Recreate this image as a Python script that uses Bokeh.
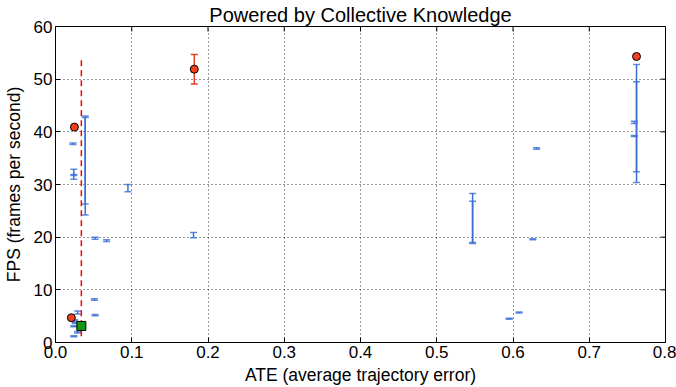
import math
from bokeh.plotting import figure
from bokeh.models import ColumnDataSource, Whisker, TeeHead, FixedTicker
from bokeh.embed import file_html
from bokeh.resources import INLINE

# ---- data ----
x_ticks = [0.0, 0.1, 0.2, 0.3, 0.4, 0.5, 0.6, 0.7, 0.8]
x_tick_labels = ["0.0", "0.1", "0.2", "0.3", "0.4", "0.5", "0.6", "0.7", "0.8"]
y_ticks = [0, 10, 20, 30, 40, 50, 60]
y_tick_labels = ["0", "10", "20", "30", "40", "50", "60"]

blue_x = [0.039, 0.039, 0.023, 0.024, 0.024, 0.095, 0.052, 0.067, 0.181,
          0.051, 0.052, 0.029, 0.025, 0.026, 0.024, 0.029, 0.024,
          0.547, 0.547, 0.626, 0.595, 0.608, 0.631,
          0.762, 0.762, 0.759, 0.759]
blue_lo = [26.3, 24.2, 37.6, 31.0, 31.7, 28.6, 19.6, 19.2, 19.9,
           8.0, 5.1, 5.4, 4.1, 3.6, 3.0, 1.8, 1.1,
           18.8, 19.0, 19.5, 4.4, 5.6, 36.7,
           30.4, 32.4, 41.6, 39.1]
blue_hi = [43.0, 42.7, 37.9, 32.9, 31.9, 30.0, 20.0, 19.5, 20.9,
           8.3, 5.3, 6.0, 4.3, 3.8, 3.2, 2.1, 1.3,
           28.3, 26.8, 19.7, 4.6, 5.8, 37.0,
           52.8, 49.5, 42.0, 39.3]

red_err_x = [0.182]
red_err_lo = [49.1]
red_err_hi = [54.7]

red_x = [0.0208, 0.0248, 0.182, 0.762]
red_y = [4.7, 40.9, 51.9, 54.3]

green_x = [0.0339]
green_y = [3.15]

line_x = [0.0339, 0.0339]
line_y = [1.2, 54.3]

X_MAX = x_ticks[-1]
Y_MAX = y_ticks[-1]

# ---- figure ----
FONT = "Liberation Sans"
p = figure(width=676, height=387, x_range=(x_ticks[0], X_MAX), y_range=(y_ticks[0], Y_MAX),
           output_backend="svg", toolbar_location=None,
           min_border_left=51, min_border_right=11,
           min_border_top=25, min_border_bottom=45)
p.background_fill_color = "white"
p.border_fill_color = "white"
p.outline_line_color = "black"
p.outline_line_width = 1
p.outline_line_alpha = 1

p.title.text = "Powered by Collective Knowledge"
p.title.align = "center"
p.title.text_font = FONT
p.title.text_font_size = "20px"
p.title.text_font_style = "normal"
p.title.text_color = "black"
p.title.standoff = 2

for ax in (p.xaxis[0], p.yaxis[0]):
    ax.axis_line_color = None
    ax.major_tick_in = 5
    ax.major_tick_out = 0
    ax.minor_tick_in = 0
    ax.minor_tick_out = 0
    ax.major_tick_line_color = "black"
    ax.major_label_text_font = FONT
    ax.major_label_text_font_size = "17px"
    ax.major_label_text_color = "black"
    ax.axis_label_text_font = FONT
    ax.axis_label_text_font_size = "17.5px"
    ax.axis_label_text_font_style = "normal"
    ax.axis_label_text_color = "black"
    ax.major_label_standoff = 3
    ax.axis_label_standoff = 4
p.yaxis[0].axis_label_standoff = 7

p.xaxis[0].ticker = FixedTicker(ticks=x_ticks)
p.xaxis[0].major_label_overrides = dict(zip(x_ticks, x_tick_labels))
p.yaxis[0].ticker = FixedTicker(ticks=y_ticks)
p.yaxis[0].major_label_overrides = dict(zip(y_ticks, y_tick_labels))
p.xaxis[0].axis_label = "ATE (average trajectory error)"
p.yaxis[0].axis_label = "FPS (frames per second)"

p.grid.grid_line_color = "black"
p.grid.grid_line_dash = "1 3"
p.grid.grid_line_alpha = 0.8
p.xgrid.ticker = FixedTicker(ticks=x_ticks)
p.ygrid.ticker = FixedTicker(ticks=y_ticks)

# mirrored inward ticks on the top and right frame edges
p.ray(x=x_ticks, y=[Y_MAX] * len(x_ticks), length=5, length_units="screen",
      angle=-math.pi / 2, line_color="black", line_width=1)
p.ray(x=[X_MAX] * len(y_ticks), y=y_ticks, length=5, length_units="screen",
      angle=math.pi, line_color="black", line_width=1)

BLUE = "#3a6fd8"
bsrc = ColumnDataSource(dict(x=blue_x, lo=blue_lo, hi=blue_hi))
p.add_layout(Whisker(source=bsrc, base="x", lower="lo", upper="hi",
                     line_color=BLUE, line_width=1.5,
                     upper_head=TeeHead(size=7, line_color=BLUE, line_width=1.5, line_alpha=0.8),
                     lower_head=TeeHead(size=7, line_color=BLUE, line_width=1.5, line_alpha=0.8)))

RED = "#e8412e"
rsrc = ColumnDataSource(dict(x=red_err_x, lo=red_err_lo, hi=red_err_hi))
p.add_layout(Whisker(source=rsrc, base="x", lower="lo", upper="hi",
                     line_color=RED, line_width=1.5,
                     upper_head=TeeHead(size=7, line_color=RED, line_width=1.5),
                     lower_head=TeeHead(size=7, line_color=RED, line_width=1.5)))

p.line(line_x, line_y, line_color="red", line_width=1.5, line_dash="6 4")

p.scatter(red_x, red_y, marker="circle", size=8, fill_color="#f0401c",
          line_color="black", line_width=1)
p.scatter(green_x, green_y, marker="square", size=9, fill_color="#119911",
          line_color="black", line_width=1)

open("out.html", "w").write(file_html(p, INLINE))
